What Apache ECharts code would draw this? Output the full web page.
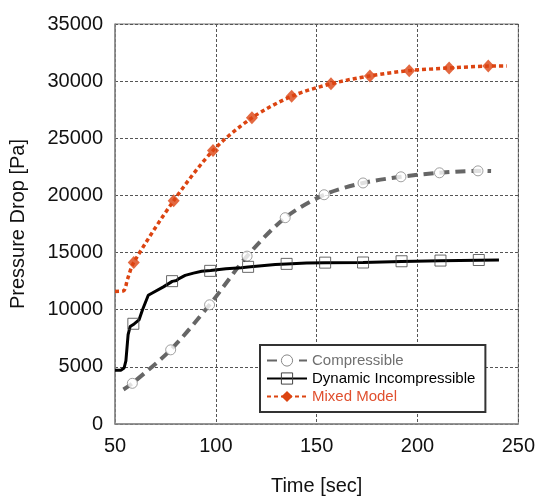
<!DOCTYPE html>
<html>
<head>
<meta charset="utf-8">
<script src="https://cdn.jsdelivr.net/npm/echarts@6/dist/echarts.min.js"></script>
<style>
html,body{margin:0;padding:0;background:#fff;}
#chart{width:538px;height:501px;}
</style>
</head>
<body>
<div id="chart"></div>
<script>
// ---- data ----
var xTicks = [50, 100, 150, 200, 250];
var yTicks = [0, 5000, 10000, 15000, 20000, 25000, 30000, 35000];
var seriesNames = ['Compressible', 'Dynamic Incompressible', 'Mixed Model'];

// Compressible (line)
var compT = [54.2, 58.6, 77.6, 96.9, 115.5, 134.4, 153.7, 173.0, 191.8, 210.9, 230.0, 236.5];
var compV = [3020, 3560, 6490, 10430, 14690, 18050, 20060, 21090, 21630, 21980, 22150, 22130];
// Compressible (markers)
var compMT = [58.6, 77.6, 96.9, 115.5, 134.4, 153.7, 173.0, 191.8, 210.9, 230.0];
var compMV = [3560, 6490, 10430, 14690, 18050, 20060, 21090, 21630, 21980, 22150];

// Dynamic Incompressible (line)
var dynT = [50, 52.9, 54.5, 55.4, 56.5, 57.5, 59.5, 61.9, 63.6, 66.5, 67.6, 74.0, 78.4, 80.5, 81.5, 84.8, 88.9, 93.0, 97.4, 105, 112.6, 116.0, 129.5, 135.1, 145, 154.2, 173.0, 192.1, 211.4, 230.4, 240.4];
var dynV = [4710, 4710, 4900, 5520, 7820, 8530, 8760, 9110, 9970, 11260, 11380, 12000, 12480, 12560, 12700, 13000, 13200, 13370, 13430, 13580, 13680, 13740, 13950, 14000, 14080, 14100, 14130, 14220, 14280, 14330, 14340];
// Dynamic Incompressible (markers)
var dynMT = [59.1, 78.3, 97.2, 116.0, 135.1, 154.2, 173.0, 192.1, 211.4, 230.4];
var dynMV = [8770, 12500, 13400, 13750, 14010, 14120, 14130, 14240, 14300, 14350];

// Mixed Model (line)
var mixT = [50, 54.2, 56.2, 59.3, 79.1, 98.6, 117.9, 137.6, 157.1, 176.4, 195.9, 215.7, 235.1, 244.2];
var mixV = [11600, 11650, 12670, 14140, 19540, 23930, 26790, 28680, 29770, 30460, 30920, 31150, 31320, 31330];
// Mixed Model (markers)
var mixMT = [59.3, 79.1, 98.6, 117.9, 137.6, 157.1, 176.4, 195.9, 215.7, 235.1];
var mixMV = [14140, 19540, 23930, 26790, 28680, 29770, 30460, 30920, 31150, 31320];

function pairs(t, v) { return t.map(function (x, i) { return [x, v[i]]; }); }

var FONT = 'Liberation Sans, Arial, sans-serif';
var RED = '#dc4411';
var GRAY = '#666666';

var chart = echarts.init(document.getElementById('chart'), null, {renderer: 'canvas'});
chart.setOption({
  backgroundColor: '#ffffff',
  animation: false,
  textStyle: {fontFamily: FONT},
  grid: {left: 113, right: 19, top: 24, bottom: 70, show: true, borderColor: '#777', borderWidth: 1},
  xAxis: {
    type: 'value', min: xTicks[0], max: xTicks[xTicks.length - 1], interval: 50,
    name: 'Time [sec]', nameLocation: 'middle', nameGap: 52,
    nameTextStyle: {fontSize: 20, color: '#111', fontFamily: FONT},
    axisLine: {show: true, lineStyle: {color: '#888', width: 1.5}},
    axisTick: {show: false},
    axisLabel: {fontSize: 20, color: '#111', margin: 12, fontFamily: FONT, formatter: function (v) { return String(v); }},
    splitLine: {show: true, lineStyle: {color: '#555', width: 1, type: [3, 2]}}
  },
  yAxis: {
    type: 'value', min: yTicks[0], max: yTicks[yTicks.length - 1], interval: 5000,
    name: 'Pressure Drop [Pa]', nameLocation: 'middle', nameGap: 87,
    nameTextStyle: {fontSize: 20, color: '#111', fontFamily: FONT},
    axisLine: {show: true, lineStyle: {color: '#888', width: 1.5}},
    axisTick: {show: false},
    axisLabel: {fontSize: 20, color: '#111', margin: 12, fontFamily: FONT, formatter: function (v) { return String(v); }},
    splitLine: {show: true, lineStyle: {color: '#555', width: 1, type: [3, 2]}}
  },
  legend: {
    orient: 'vertical', left: 260, top: 345,
    padding: [8, 10, 8, 6], itemGap: 3, itemWidth: 40, itemHeight: 14,
    borderColor: '#333', borderWidth: 2, backgroundColor: '#fff',
    textStyle: {fontSize: 15, fontFamily: FONT},
    data: [
      {name: seriesNames[0], textStyle: {color: '#707070'}, itemStyle: {color: '#fff', borderColor: '#888', borderWidth: 1}},
      {name: seriesNames[1], textStyle: {color: '#000'}, itemStyle: {color: 'rgba(255,255,255,0)', borderColor: '#444', borderWidth: 1}},
      {name: seriesNames[2], textStyle: {color: '#e0502f'}, itemStyle: {color: RED, borderWidth: 0}}
    ]
  },
  series: [
    {
      name: seriesNames[0], type: 'line', data: pairs(compT, compV),
      smooth: 0.3, symbol: 'circle', showSymbol: false, symbolSize: 10,
      itemStyle: {color: '#fff', borderColor: '#888', borderWidth: 1},
      lineStyle: {color: GRAY, width: 4, type: [10, 6]}, z: 2
    },
    {
      name: seriesNames[1], type: 'line', data: pairs(dynT, dynV),
      smooth: false, symbol: 'rect', showSymbol: false, symbolSize: 11,
      itemStyle: {color: 'rgba(255,255,255,0)', borderColor: '#444', borderWidth: 1},
      lineStyle: {color: '#000', width: 3}, z: 3
    },
    {
      name: seriesNames[2], type: 'line', data: pairs(mixT, mixV),
      smooth: 0.3, symbol: 'diamond', showSymbol: false, symbolSize: 12,
      itemStyle: {color: RED},
      lineStyle: {color: RED, width: 3.5, type: [4, 3]}, z: 4
    },
    {
      name: seriesNames[0], type: 'scatter', data: pairs(compMT, compMV),
      symbol: 'circle', symbolSize: 10,
      itemStyle: {color: '#fff', borderColor: '#888', borderWidth: 1}, z: 5
    },
    {
      name: seriesNames[1], type: 'scatter', data: pairs(dynMT, dynMV),
      symbol: 'rect', symbolSize: 11,
      itemStyle: {color: 'rgba(255,255,255,0)', borderColor: '#444', borderWidth: 1}, z: 6
    },
    {
      name: seriesNames[2], type: 'scatter', data: pairs(mixMT, mixMV),
      symbol: 'diamond', symbolSize: [12, 13],
      itemStyle: {color: RED}, z: 7
    }
  ]
});
</script>
</body>
</html>
